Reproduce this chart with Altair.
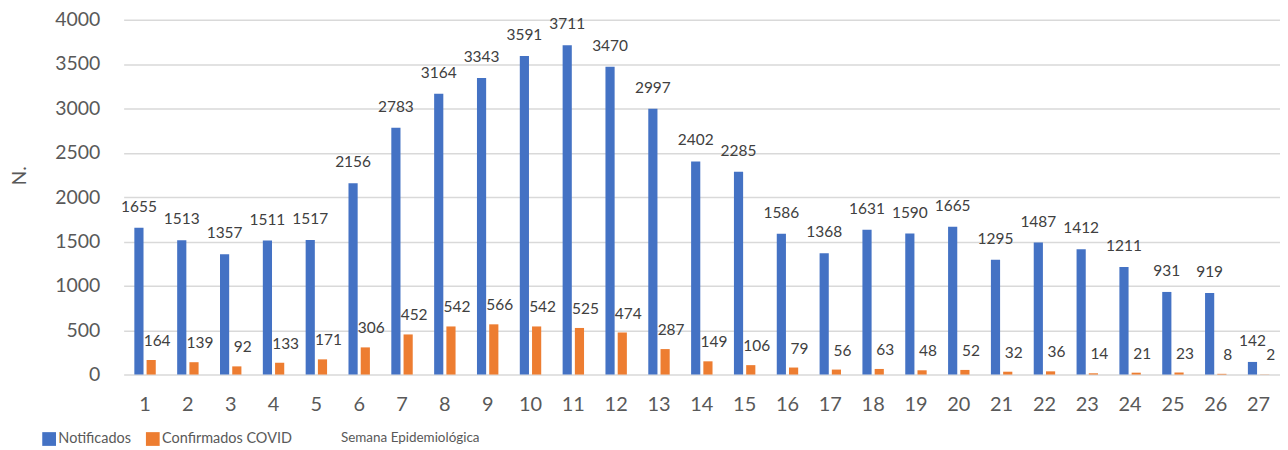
import altair as alt
import pandas as pd

weeks = list(range(1, 28))
notificados = [1655, 1513, 1357, 1511, 1517, 2156, 2783, 3164, 3343, 3591, 3711, 3470, 2997,
               2402, 2285, 1586, 1368, 1631, 1590, 1665, 1295, 1487, 1412, 1211, 931, 919, 142]
confirmados = [164, 139, 92, 133, 171, 306, 452, 542, 566, 542, 525, 474, 287,
               149, 106, 79, 56, 63, 48, 52, 32, 36, 14, 21, 23, 8, 2]
series = ["Notificados", "Confirmados COVID"]
colors = ["#4472C4", "#ED7D31"]
y_ticks = [0, 500, 1000, 1500, 2000, 2500, 3000, 3500, 4000]

rows = []
for w, n, c in zip(weeks, notificados, confirmados):
    rows.append({"semana": w, "serie": series[0], "valor": n})
    rows.append({"semana": w, "serie": series[1], "valor": c})
df = pd.DataFrame(rows)

FONT = "Lato"
GRAY = "#595959"

x = alt.X("semana:O", scale=alt.Scale(paddingInner=0.5, paddingOuter=0.25),
          axis=alt.Axis(title="Semana Epidemiológica", labelAngle=0, labelFontSize=20,
                        labelFont=FONT, labelColor=GRAY, labelPadding=20, ticks=False,
                        domain=False, titleFont=FONT, titleFontSize=13.5,
                        titleFontWeight="normal", titleColor=GRAY, titleX=287,
                        titleY=67, titleAnchor="start", titleAlign="center",
                        titleBaseline="alphabetic"))
xo = alt.XOffset("serie:N", scale=alt.Scale(domain=series, paddingInner=0.25, paddingOuter=0))
y = alt.Y("valor:Q", scale=alt.Scale(domain=[0, 4000]),
          axis=alt.Axis(title="N.", values=y_ticks, format="d", labelFontSize=19.5,
                        labelFont=FONT, labelColor=GRAY, labelPadding=24, ticks=False,
                        domain=False, gridColor="#D9D9D9", gridWidth=1.5, titleFont=FONT,
                        titleFontSize=19, titleFontWeight="normal", titleColor=GRAY,
                        titleX=-98, titleY=156, titleAngle=270, titleAlign="center",
                        titleBaseline="alphabetic"))

bars = alt.Chart(df).mark_bar().encode(
    x=x, xOffset=xo, y=y,
    color=alt.Color("serie:N", scale=alt.Scale(domain=series, range=colors),
                    legend=alt.Legend(orient="none", legendX=-82, legendY=413,
                                      direction="horizontal", title=None,
                                      symbolType="square", symbolSize=190,
                                      symbolStrokeWidth=0, labelFontSize=14.5,
                                      labelFont=FONT, labelColor=GRAY,
                                      columnPadding=14, labelOffset=2)),
)

text_n = alt.Chart(df).transform_filter(alt.datum.serie == series[0]).mark_text(
    baseline="alphabetic", dy=-16, fontSize=15.5, font=FONT, color="#404040"
).encode(x=x, xOffset=xo, y=y, text="valor:Q")

text_c = alt.Chart(df).transform_filter(alt.datum.serie == series[1]).mark_text(
    baseline="alphabetic", dy=-14, dx=6, fontSize=15.5, font=FONT, color="#404040"
).encode(x=x, xOffset=xo, y=y, text="valor:Q")

chart = alt.layer(bars, text_n, text_c).properties(
    width=1160, height=356,
    autosize=alt.AutoSizeParams(type="none"),
    padding={"left": 116, "top": 11, "right": 0, "bottom": 75},
).configure_view(stroke=None)

chart.save("out.html", embed_options={"renderer": "svg", "actions": False})
